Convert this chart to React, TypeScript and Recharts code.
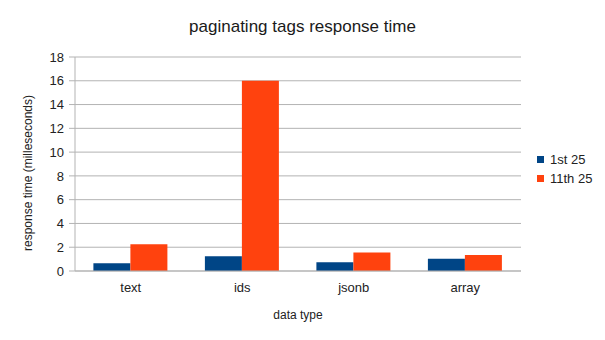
import React from 'react';
import { BarChart, Bar, XAxis, YAxis, CartesianGrid, Legend } from 'recharts';

const categories = ['text', 'ids', 'jsonb', 'array'];
const first25 = [0.65, 1.24, 0.73, 1.04];
const eleventh25 = [2.25, 16, 1.55, 1.35];
const yTicks = [0, 2, 4, 6, 8, 10, 12, 14, 16, 18];
const edgeTicks = [0, 1, 2, 3, 4];
const seriesNames = ['1st 25', '11th 25'];
const seriesColors = ['#004586', '#ff420e'];

const data = categories.map((c, i) => ({ name: c, a: first25[i], b: eleventh25[i] }));

const FONT = '"Liberation Sans", Arial, sans-serif';
const GRID = '#b3b3b3';

const LegendContent = (props: any) => {
  const payload = [...(props.payload || [])].sort(
    (x: any, y: any) => seriesNames.indexOf(x.value) - seriesNames.indexOf(y.value)
  );
  return (
    <div style={{ fontFamily: FONT, fontSize: 13, color: '#222' }}>
      {payload.map((p: any, i: number) => (
        <div key={i} style={{ display: 'flex', alignItems: 'center', height: 19 }}>
          <span style={{ display: 'inline-block', width: 7, height: 7, background: p.color, marginRight: 6 }} />
          <span>{p.value}</span>
        </div>
      ))}
    </div>
  );
};

export default function App() {
  return (
    <div style={{ position: 'absolute', left: 0, top: 0, width: 605, height: 340, background: '#fff' }}>
      <div
        style={{
          position: 'absolute', left: 0, top: 17, width: 605, textAlign: 'center',
          fontFamily: FONT, fontSize: 17, color: '#1a1a1a', lineHeight: '20px',
        }}
      >
        paginating tags response time
      </div>
      <BarChart
        width={605}
        height={340}
        data={data}
        margin={{ top: 57, right: 84, bottom: 39, left: 0 }}
        barCategoryGap="16.5%"
        barGap={0}
      >
        <CartesianGrid vertical={false} stroke={GRID} yAxisId="left" />
        <XAxis
          xAxisId="edge"
          type="number"
          domain={[0, 4]}
          ticks={edgeTicks}
          tick={false}
          height={0}
          axisLine={false}
          tickLine={{ stroke: GRID }}
          tickSize={5}
          allowDataOverflow
        />
        <XAxis
          xAxisId="cat"
          dataKey="name"
          height={30}
          axisLine={{ stroke: GRID }}
          tickLine={false}
          tickSize={0}
          tickMargin={12}
          tick={{ fill: '#222', fontSize: 13, fontFamily: FONT }}
          label={(p: any) => {
            const vb = p.viewBox;
            return (
              <text x={vb.x + vb.width / 2} y={vb.y + 48} textAnchor="middle" fill="#222" fontSize={12} fontFamily={FONT}>
                data type
              </text>
            );
          }}
        />
        <YAxis
          yAxisId="left"
          width={75}
          domain={[0, 18]}
          ticks={yTicks}
          interval={0}
          axisLine={{ stroke: GRID }}
          tickLine={{ stroke: GRID }}
          tickSize={6}
          tickMargin={5}
          tick={{ fill: '#222', fontSize: 13, fontFamily: FONT }}
          label={(p: any) => {
            const vb = p.viewBox;
            const cx = vb.x + 32;
            const cy = vb.y + vb.height / 2 + 9;
            return (
              <text x={cx} y={cy} transform={`rotate(-90 ${cx} ${cy})`} textAnchor="middle" fill="#222" fontSize={12} fontFamily={FONT}>
                response time (milleseconds)
              </text>
            );
          }}
        />
        <YAxis
          yAxisId="right"
          orientation="right"
          width={0}
          domain={[0, 18]}
          tick={false}
          tickLine={false}
          axisLine={{ stroke: GRID }}
        />
        <Legend
          layout="vertical"
          align="center"
          verticalAlign="middle"
          content={<LegendContent />}
          wrapperStyle={{ left: 537, top: 150, width: 'auto', height: 'auto' }}
        />
        <Bar dataKey="a" name={seriesNames[0]} fill={seriesColors[0]} xAxisId="cat" yAxisId="left" isAnimationActive={false} />
        <Bar dataKey="b" name={seriesNames[1]} fill={seriesColors[1]} xAxisId="cat" yAxisId="left" isAnimationActive={false} />
      </BarChart>
    </div>
  );
}
